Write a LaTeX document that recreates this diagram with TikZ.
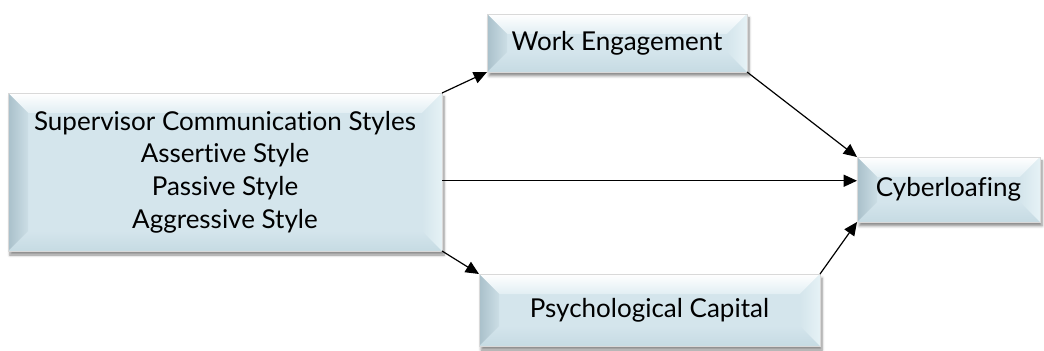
\documentclass[tikz,border=0pt]{standalone}
\usepackage{fontspec}
\setmainfont{Lato}[Ligatures={NoCommon,NoContextual}]
\usetikzlibrary{arrows.meta,calc,shadows.blur}

\definecolor{face}{HTML}{D4E5EC}
\definecolor{bvtop}{HTML}{F6FCFE}
\definecolor{bvleft}{HTML}{A9C0CA}
\definecolor{bvright}{HTML}{E6F2F6}
\definecolor{bvbot}{HTML}{C6DBE3}

\tikzset{
  bevel/.style={draw=black!15, line width=0.4pt, fill=face,
    inner sep=0pt, outer sep=0pt, align=center,
    font=\fontsize{19.5}{24.5}\selectfont,
    blur shadow={shadow xshift=1.5pt, shadow yshift=-3pt,
      shadow blur steps=6, shadow opacity=45},
    path picture={
      \coordinate (nw) at (path picture bounding box.north west);
      \coordinate (ne) at (path picture bounding box.north east);
      \coordinate (sw) at (path picture bounding box.south west);
      \coordinate (se) at (path picture bounding box.south east);
      \shade[top color=white, bottom color=bvtop!40!face]
        (nw) -- (ne) -- ([shift={(-15pt,-15pt)}]ne) -- ([shift={(15pt,-15pt)}]nw) -- cycle;
      \shade[top color=face, bottom color=bvbot]
        (sw) -- (se) -- ([shift={(-15pt,15pt)}]se) -- ([shift={(15pt,15pt)}]sw) -- cycle;
      \shade[left color=bvleft, right color=face!80!bvleft]
        (nw) -- (sw) -- ([shift={(15pt,15pt)}]sw) -- ([shift={(15pt,-15pt)}]nw) -- cycle;
      \shade[left color=face, right color=bvright]
        (ne) -- (se) -- ([shift={(-15pt,15pt)}]se) -- ([shift={(-15pt,-15pt)}]ne) -- cycle;
    }},
  link/.style={line width=0.9pt, -{Triangle[length=10pt,width=9pt]}}
}

\begin{document}
\begin{tikzpicture}[x=0.75pt, y=0.75pt]
  \useasboundingbox (0,0) rectangle (1044,350);

  \node[bevel, minimum width=325.5pt, minimum height=118.5pt] (scs) at (225,178)
    {\raisebox{-3pt}{\parbox{320pt}{\centering Supervisor Communication Styles\\Assertive Style\\Passive Style\\Aggressive Style}}};
  \node[bevel, minimum width=195pt, minimum height=43.5pt] (we) at (617,307) {Work Engagement};
  \node[bevel, minimum width=255.75pt, minimum height=54pt] (pc) at (649.5,40) {Psychological Capital};
  \node[bevel, minimum width=137.25pt, minimum height=48.75pt] (cyb) at (948.5,160.5) {Cyberloafing};

  \coordinate (mid) at ($(scs.east)!0.5!(cyb.west)$);

  \draw[link] (scs.north east) -- (we.south west);
  \draw[link] (scs.south east) -- (pc.north west);
  \draw[link] (scs.east |- mid) -- (cyb.west |- mid);
  \draw[link] (we.south east) -- (cyb.north west);
  \draw[link] (pc.north east) -- (cyb.south west);
\end{tikzpicture}
\end{document}
